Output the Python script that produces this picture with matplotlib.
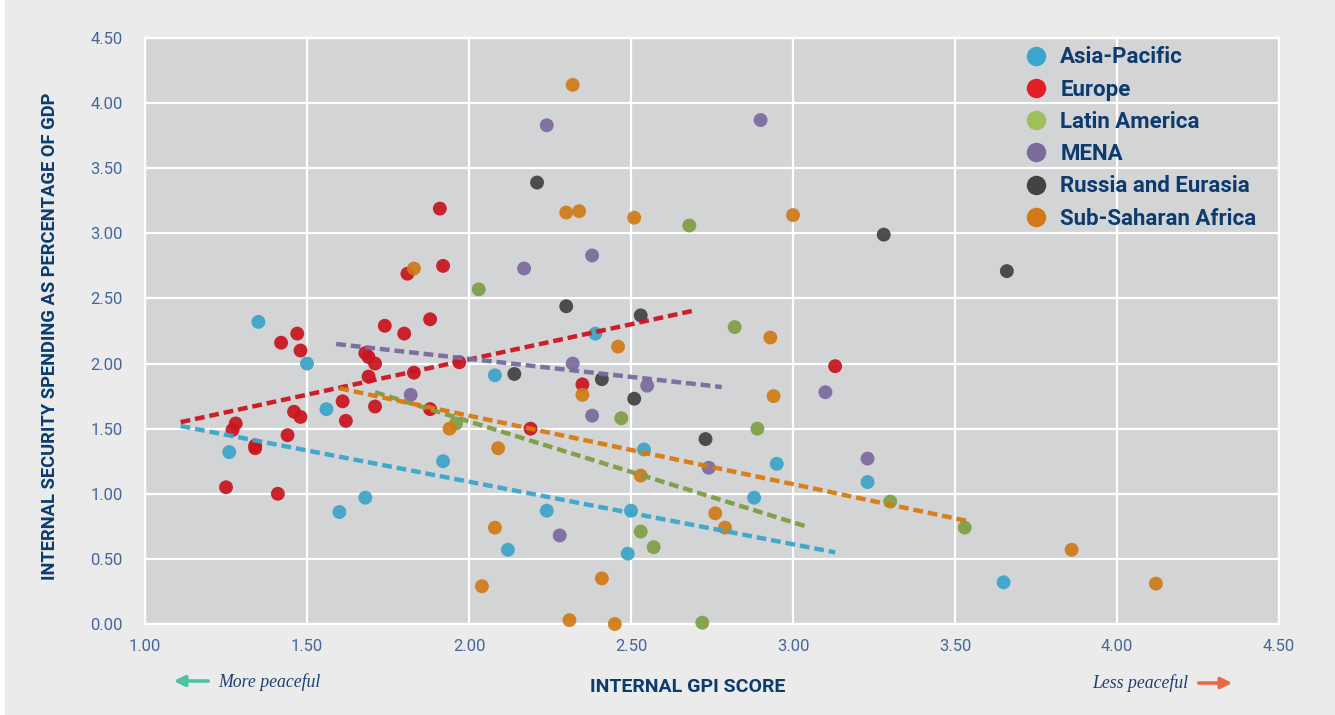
import matplotlib
matplotlib.use("Agg")
import matplotlib.pyplot as plt
from matplotlib.lines import Line2D
from matplotlib.patches import Rectangle

# values (internal GPI score, internal security spending % of GDP)
asia_x = [1.35, 1.50, 1.26, 1.56, 1.60, 1.68, 1.92, 2.08, 2.12, 2.24, 2.39, 2.49, 2.50, 2.54, 2.88, 2.95, 3.23, 3.65]
asia_y = [2.32, 2.00, 1.32, 1.65, 0.86, 0.97, 1.25, 1.91, 0.57, 0.87, 2.23, 0.54, 0.87, 1.34, 0.97, 1.23, 1.09, 0.32]

europe_x = [1.91, 1.92, 1.81, 1.47, 1.42, 1.48, 1.74, 1.80, 1.88, 1.68, 1.69, 1.71, 1.97, 1.83, 1.69, 1.61,
            1.71, 1.62, 1.88, 1.46, 1.48, 1.28, 1.27, 1.44, 1.34, 1.34, 1.25, 1.41, 2.35, 2.19, 3.13]
europe_y = [3.19, 2.75, 2.69, 2.23, 2.16, 2.10, 2.29, 2.23, 2.34, 2.08, 2.05, 2.00, 2.01, 1.93, 1.90, 1.71,
            1.67, 1.56, 1.65, 1.63, 1.59, 1.54, 1.49, 1.45, 1.37, 1.35, 1.05, 1.00, 1.84, 1.50, 1.98]

latam_x = [2.03, 2.68, 2.82, 1.96, 2.47, 2.89, 2.53, 2.57, 2.72, 3.30, 3.53]
latam_y = [2.57, 3.06, 2.28, 1.54, 1.58, 1.50, 0.71, 0.59, 0.01, 0.94, 0.74]

mena_x = [2.24, 2.90, 2.38, 2.17, 2.32, 1.82, 2.55, 2.38, 2.74, 2.28, 3.10, 3.23]
mena_y = [3.83, 3.87, 2.83, 2.73, 2.00, 1.76, 1.83, 1.60, 1.20, 0.68, 1.78, 1.27]

russia_x = [2.21, 2.30, 2.53, 2.14, 2.41, 2.51, 2.73, 3.28, 3.66]
russia_y = [3.39, 2.44, 2.37, 1.92, 1.88, 1.73, 1.42, 2.99, 2.71]

ssa_x = [2.32, 2.30, 2.34, 2.51, 3.00, 1.83, 2.46, 2.93, 2.35, 2.94, 1.94, 2.09, 2.53, 2.76, 2.79,
         2.08, 2.41, 2.04, 2.31, 2.45, 3.86, 4.12]
ssa_y = [4.14, 3.16, 3.17, 3.12, 3.14, 2.73, 2.13, 2.20, 1.76, 1.75, 1.50, 1.35, 1.14, 0.85, 0.74,
         0.74, 0.35, 0.29, 0.03, 0.00, 0.57, 0.31]

# trend line ends (x0, x1), (y0, y1)
trend_x = {"Asia-Pacific": [1.11, 3.13], "Europe": [1.11, 2.70], "Latin America": [1.71, 3.04],
           "MENA": [1.59, 2.78], "Sub-Saharan Africa": [1.60, 3.54]}
trend_y = {"Asia-Pacific": [1.52, 0.55], "Europe": [1.55, 2.41], "Latin America": [1.78, 0.75],
           "MENA": [2.15, 1.82], "Sub-Saharan Africa": [1.81, 0.79]}

regions = ["Asia-Pacific", "Europe", "Latin America", "MENA", "Russia and Eurasia", "Sub-Saharan Africa"]
xs = [asia_x, europe_x, latam_x, mena_x, russia_x, ssa_x]
ys = [asia_y, europe_y, latam_y, mena_y, russia_y, ssa_y]
point_colors = ["#3aa3c8", "#c8141e", "#7e9e45", "#7a6a9e", "#404042", "#d07a17"]
legend_colors = ["#3aa6cc", "#e41e26", "#9fbe5c", "#7a6a9e", "#434345", "#d07a17"]
line_colors = {"Asia-Pacific": "#3aa6cc", "Europe": "#cc1520", "Latin America": "#7e9e45",
               "MENA": "#7a6a9e", "Sub-Saharan Africa": "#d97a10"}

x_ticks = [1.0, 1.5, 2.0, 2.5, 3.0, 3.5, 4.0, 4.5]
y_ticks = [0.0, 0.5, 1.0, 1.5, 2.0, 2.5, 3.0, 3.5, 4.0, 4.5]

navy = "#0d3b6e"
tick_col = "#45679a"

W, H = 1335, 715
fig = plt.figure(figsize=(W / 100, H / 100), dpi=100, facecolor="white")
fig.patches.append(Rectangle((5 / W, 1 / H), 1, 1, transform=fig.transFigure, color="#ebebeb", zorder=-10))

ax = fig.add_axes([145 / W, 1 - 624 / H, (1279 - 145) / W, (624 - 38) / H])
ax.set_facecolor("#d3d4d6")
ax.set_xlim(1.0, 4.5)
ax.set_ylim(0.0, 4.5)
ax.set_xticks(x_ticks)
ax.set_yticks(y_ticks)
ax.set_xticklabels([f"{v:.2f}" for v in x_ticks])
ax.set_yticklabels([f"{v:.2f}" for v in y_ticks])
ax.grid(True, color="white", linewidth=1.6)
ax.set_axisbelow(True)
for s in ax.spines.values():
    s.set_color("white")
    s.set_linewidth(1.6)
ax.tick_params(length=0, labelsize=12, labelcolor=tick_col)
ax.tick_params(axis="y", pad=16)
ax.tick_params(axis="x", pad=11)
for lab in ax.get_xticklabels() + ax.get_yticklabels():
    lab.set_family("Roboto")
    lab.set_fontweight("normal")

for name, x, y, c in zip(regions, xs, ys, point_colors):
    ax.scatter(x, y, s=100, color=c, alpha=0.92, edgecolors="none", zorder=3, clip_on=False)

for name in trend_x:
    ax.plot(trend_x[name], trend_y[name], color=line_colors[name], linewidth=3.2,
            dashes=(2.2, 1.1), dash_capstyle="butt", zorder=4, alpha=0.95)

handles = [Line2D([], [], marker="o", linestyle="none", markersize=14, markerfacecolor=c,
                  markeredgecolor="none") for c in legend_colors]
leg = ax.legend(handles, regions, loc="upper right", bbox_to_anchor=(1 - 8 / 1134, 1 + 6 / 586),
                frameon=False, prop={"family": "Roboto", "weight": "bold", "size": 16}, labelcolor=navy,
                handletextpad=0.58, labelspacing=0.46, borderaxespad=0.25, handlelength=1.0)

fig.text(50 / W, 1 - 336 / H, "INTERNAL SECURITY SPENDING AS PERCENTAGE OF GDP", rotation=90,
         ha="center", va="center", color=navy, fontsize=13.2, fontweight="bold", family="Roboto")
fig.text(688 / W, 1 - 687 / H, "INTERNAL GPI SCORE", ha="center", va="center", color=navy,
         fontsize=14, fontweight="bold", family="Roboto")

fig.text(218 / W, 1 - 682 / H, "More peaceful", ha="left", va="center", color="#1f3f73",
         fontsize=12.8, style="italic", family="Liberation Serif")
ax.annotate("", xy=(171 / W, 1 - 681 / H), xytext=(211 / W, 1 - 681 / H), xycoords="figure fraction",
            arrowprops=dict(arrowstyle="-|>", color="#4fc1a4", lw=2.6, mutation_scale=16))
fig.text(1188 / W, 1 - 683 / H, "Less peaceful", ha="right", va="center", color="#1f3f73",
         fontsize=12.8, style="italic", family="Liberation Serif")
ax.annotate("", xy=(1235 / W, 1 - 683 / H), xytext=(1196 / W, 1 - 683 / H), xycoords="figure fraction",
            arrowprops=dict(arrowstyle="-|>", color="#e8694a", lw=2.6, mutation_scale=16))

fig.savefig("out.png", dpi=100, facecolor=fig.get_facecolor())
